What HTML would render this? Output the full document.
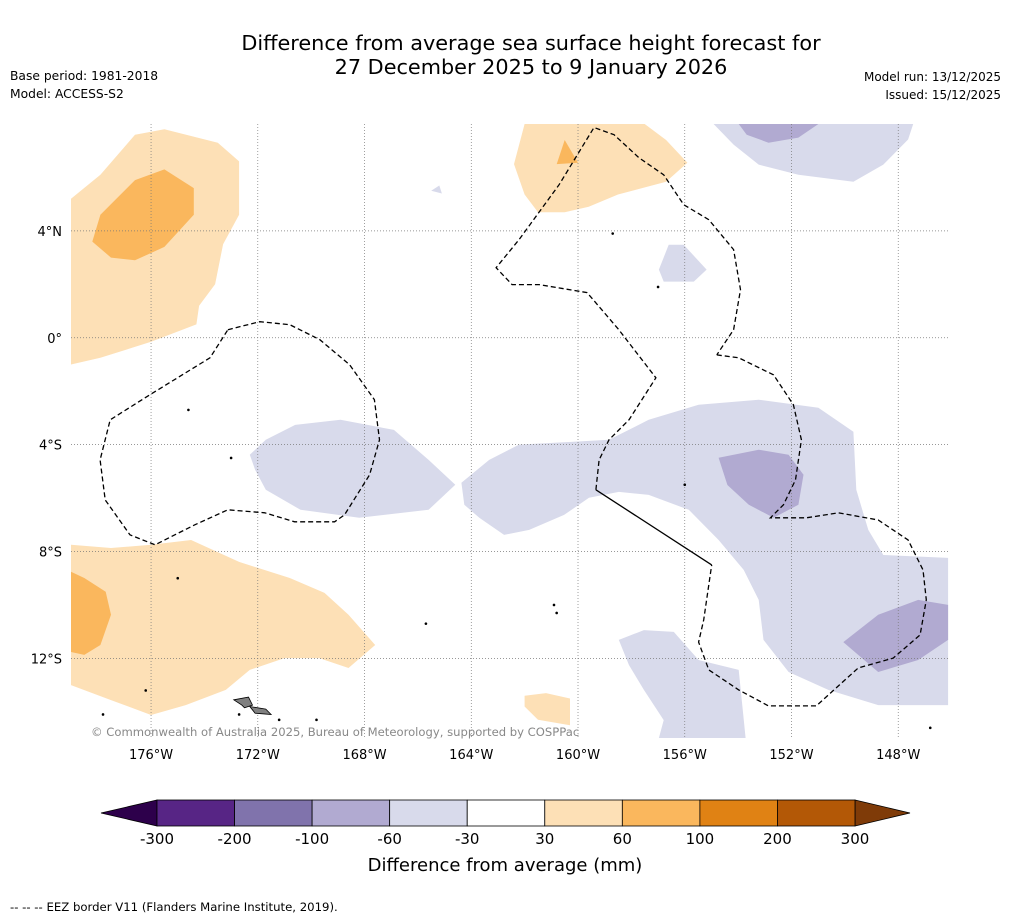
<!DOCTYPE html>
<html><head><meta charset="utf-8">
<style>
html,body{margin:0;padding:0;background:#fff;}
body{width:1011px;height:919px;overflow:hidden;font-family:"DejaVu Sans","Liberation Sans",sans-serif;}
svg text{font-family:"DejaVu Sans","Liberation Sans",sans-serif;}
</style></head>
<body>
<svg id="chart" width="1011" height="919" xmlns="http://www.w3.org/2000/svg">
<rect width="1011" height="919" fill="#fff"/>
<text x="531" y="50" font-size="20.8" text-anchor="middle" fill="#000">Difference from average sea surface height forecast for</text>
<text x="531" y="74" font-size="20.8" text-anchor="middle" fill="#000">27 December 2025 to 9 January 2026</text>
<text x="10" y="80" font-size="12.3">Base period: 1981-2018</text>
<text x="10" y="98" font-size="12.3">Model: ACCESS-S2</text>
<text x="1001" y="81" font-size="12" text-anchor="end">Model run: 13/12/2025</text>
<text x="1001" y="99" font-size="12" text-anchor="end">Issued: 15/12/2025</text>
<g id="map"></g>
<g id="cbar"></g>
<text x="505" y="871" font-size="18" text-anchor="middle">Difference from average (mm)</text>
<text x="10" y="911" font-size="11.7">--  --  -- EEZ border V11 (Flanders Marine Institute, 2019).</text>
</svg>
<script>
const NS="http://www.w3.org/2000/svg";
const lonTicks=[176,172,168,164,160,156,152,148];
const latTicks=[4,0,-4,-8,-12];
const cbLevels=[-300,-200,-100,-60,-30,30,60,100,200,300];
const cbColors=["#572585","#8073ac","#b1aad1","#d8daeb","#ffffff","#fde0b6","#fab75d","#e08214","#b35806"];
const cbLow="#2d004b", cbHigh="#7f3b08";
const lightOrange=[
 [[179,5.2],[177.9,6.1],[176.6,7.6],[175.5,7.8],[173.5,7.3],[172.7,6.6],[172.7,4.6],[173.3,3.5],[173.6,2.0],[174.2,1.2],[174.3,0.5],[176,-0.15],[177.9,-0.75],[179,-1.0]],
 [[162.0,8.0],[157.5,8.0],[156.7,7.4],[155.9,6.55],[156.7,5.84],[158.5,5.36],[159.6,4.9],[160.5,4.7],[161.5,4.7],[162.0,5.36],[162.4,6.5]],
 [[179,-7.75],[177.5,-7.87],[176.0,-7.75],[174.5,-7.57],[172.7,-8.39],[170.8,-8.99],[169.5,-9.55],[168.6,-10.37],[167.6,-11.5],[168.6,-12.36],[169.7,-11.99],[171.0,-11.99],[172.3,-12.43],[173.2,-13.18],[174.7,-13.75],[176.0,-14.12],[177.5,-13.56],[179,-13.0]],
 [[162,-13.4],[161.2,-13.3],[160.3,-13.5],[160.3,-14.5],[161.5,-14.3],[162,-13.8]]
];
const midOrange=[
 [[178.2,3.6],[177.9,4.6],[176.6,5.9],[175.5,6.3],[174.4,5.6],[174.4,4.6],[175.5,3.4],[176.6,2.9],[177.5,3.0]],
 [[160.8,6.5],[160.5,7.4],[160.0,6.55]],
 [[179,-8.76],[178.5,-8.99],[177.7,-9.51],[177.5,-10.37],[177.9,-11.5],[178.5,-11.87],[179,-11.76]]
];
const lightPurple=[
 [[172.3,-4.38],[171.7,-3.82],[170.6,-3.26],[168.9,-3.07],[166.9,-3.45],[165.6,-4.57],[164.6,-5.5],[165.6,-6.44],[168.2,-6.74],[170.4,-6.44],[171.7,-5.69],[172.1,-4.94]],
 [[164.37,-5.43],[163.33,-4.57],[162.21,-4.0],[160.34,-3.9],[158.84,-3.82],[157.35,-3.07],[155.48,-2.51],[153.23,-2.32],[150.99,-2.62],[149.68,-3.52],[149.57,-5.69],[149.12,-7.19],[148.56,-8.13],[146.13,-8.24],[146.13,-13.75],[148.75,-13.75],[150.62,-13.18],[152.11,-12.51],[153.05,-11.31],[153.23,-9.81],[153.79,-8.69],[154.73,-7.57],[155.85,-6.44],[157.35,-5.88],[158.47,-5.77],[159.59,-5.99],[160.52,-6.63],[161.83,-7.19],[162.77,-7.38],[163.70,-6.74],[164.26,-6.25]],
 [[158.47,-11.31],[157.53,-10.94],[156.41,-11.01],[155.48,-12.06],[153.98,-12.43],[153.72,-14.98],[156.97,-14.98],[156.79,-14.31],[157.53,-13.18],[158.09,-12.25]],
 [[154.92,8.0],[147.44,8.0],[147.63,7.42],[148.56,6.48],[149.68,5.84],[151.74,6.1],[153.23,6.48],[154.17,7.23]],
 [[156.97,2.55],[156.6,3.48],[156.04,3.48],[155.18,2.55],[155.66,2.1],[156.79,2.1]],
 [[165.5,5.5],[165.2,5.7],[165.1,5.4]]
];
const midPurple=[
 [[154.73,-4.49],[153.23,-4.19],[152.11,-4.38],[151.55,-5.13],[151.74,-6.25],[152.67,-6.74],[153.6,-6.25],[154.4,-5.51]],
 [[150.06,-11.39],[148.75,-10.37],[147.25,-9.81],[146.13,-10.0],[146.13,-11.31],[147.25,-12.06],[148.75,-12.51]],
 [[153.98,8.0],[150.99,8.0],[151.74,7.49],[152.86,7.3],[153.68,7.6]]
];
const eezLeft=[[173.12,0.30],[171.93,0.60],[170.80,0.49],[169.68,-0.07],[168.56,-1.01],[167.63,-2.32],[167.44,-3.82],[167.81,-5.13],[168.75,-6.63],[169.12,-6.89],[170.62,-6.89],[171.74,-6.55],[173.12,-6.44],[174.36,-7.0],[175.85,-7.75],[176.79,-7.38],[177.72,-6.07],[177.91,-4.57],[177.53,-3.07],[176.04,-2.13],[173.79,-0.75],[173.12,0.30]];
const eezMain=[[159.33,-5.69],[159.21,-4.57],[158.84,-3.82],[158.09,-3.07],[157.08,-1.50],[158.47,0.30],[159.66,1.69],[161.46,1.99],[162.47,1.99],[163.07,2.62],[162.21,3.67],[160.71,5.73],[159.40,7.87],[158.65,7.60],[157.72,6.74],[156.79,6.10],[156.04,4.98],[155.10,4.42],[154.17,3.30],[153.91,1.80],[154.17,0.30],[154.80,-0.64]];
const eezRight=[[154.80,-0.64],[153.98,-0.75],[152.67,-1.39],[151.93,-2.51],[151.63,-3.82],[151.85,-5.32],[152.30,-6.25],[152.79,-6.74],[151.44,-6.74],[150.24,-6.55],[148.75,-6.82],[147.63,-7.57],[147.07,-8.69],[146.95,-9.81],[147.18,-11.12],[148.19,-11.99],[149.50,-12.36],[151.07,-13.78],[152.86,-13.78],[153.98,-13.18],[155.10,-12.43],[155.48,-11.39],[155.29,-10.56],[154.99,-8.50]];
const eezSolid=[[159.33,-5.69],[154.99,-8.50]];
const islands=[[172.7,-14.1],[171.2,-14.3],[169.8,-14.3],[175.0,-9.0],[174.6,-2.7],[173.0,-4.5],[160.9,-10.0],[160.8,-10.3],[156.0,-5.5],[158.7,3.9],[157.0,1.9],[146.8,-14.6],[165.7,-10.7],[176.2,-13.2],[177.8,-14.1]];

const L0=179.0,L1=146.06,T=8.0,B=-14.98, X0=71,X1=950,Y0=124,Y1=738;
const x=lon=>X0+(L0-lon)/(L0-L1)*(X1-X0);
const y=lat=>Y0+(T-lat)/(T-B)*(Y1-Y0);
const map=document.getElementById('map');
function el(tag,attrs,parent){const e=document.createElementNS(NS,tag);for(const k in attrs)e.setAttribute(k,attrs[k]);(parent||map).appendChild(e);return e;}
const pts=arr=>arr.map(p=>x(p[0]).toFixed(1)+","+y(p[1]).toFixed(1)).join(" ");
function polys(list,fill,name){list.forEach(p=>{const e=el('polygon',{points:pts(p),fill:fill,stroke:'none'});

});}
polys(lightOrange,"#fde0b6","anomaly-30-60");
polys(midOrange,"#fab75d","anomaly-60-100");
polys(lightPurple,"#d8daeb","anomaly-neg30-neg60");
polys(midPurple,"#b1aad1","anomaly-neg60-neg100");
lonTicks.forEach(l=>{const g=el('line',{x1:x(l),x2:x(l),y1:Y0,y2:Y1,stroke:'#777','stroke-width':0.7,'stroke-dasharray':'1,2'});


const t=el('text',{x:x(l),y:759,'font-size':13,'text-anchor':'middle'});t.textContent=l+"°W";

});
latTicks.forEach(l=>{const g=el('line',{x1:X0,x2:X1,y1:y(l),y2:y(l),stroke:'#777','stroke-width':0.7,'stroke-dasharray':'1,2'});


const t=el('text',{x:62,y:y(l)+5,'font-size':13,'text-anchor':'end'});t.textContent=(l===0?"0°":Math.abs(l)+"°"+(l>0?"N":"S"));

});
islands.forEach(p=>{const c=el('circle',{cx:x(p[0]),cy:y(p[1]),r:1.3,fill:'#000'});

});
[[[172.9,-13.55],[172.35,-13.45],[172.2,-13.75],[172.5,-13.85],[172.6,-13.75]],[[172.3,-13.8],[171.7,-13.9],[171.5,-14.1],[172.1,-14.05]]].forEach(p=>{const e=el('polygon',{points:pts(p),fill:'#808080',stroke:'#000','stroke-width':0.8});

});
[eezLeft,eezMain,eezRight].forEach(line=>{const e=el('polyline',{points:pts(line),fill:'none',stroke:'#000','stroke-width':1.3,'stroke-dasharray':'5,3'});

});
const s=el('polyline',{points:pts(eezSolid),fill:'none',stroke:'#000','stroke-width':1.3});


const cp=el('text',{x:91,y:736,'font-size':11.6,fill:'#888'});cp.textContent="© Commonwealth of Australia 2025, Bureau of Meteorology, supported by COSPPac";


const cb=document.getElementById('cbar');
const CX0=157,CX1=855,CY=800,CH=26;
const n=cbLevels.length-1, cw=(CX1-CX0)/n;
const lo=el('polygon',{points:`${CX0},${CY} ${CX0},${CY+CH} 101,${CY+CH/2}`,fill:cbLow,stroke:'#000','stroke-width':0.8},cb);


const hi=el('polygon',{points:`${CX1},${CY} ${CX1},${CY+CH} 910,${CY+CH/2}`,fill:cbHigh,stroke:'#000','stroke-width':0.8},cb);


cbColors.forEach((c,i)=>{const r=el('rect',{x:CX0+i*cw,y:CY,width:cw,height:CH,fill:c,stroke:'#000','stroke-width':0.8},cb);

});
cbLevels.forEach((v,i)=>{const t=el('text',{x:CX0+i*cw,y:844,'font-size':15,'text-anchor':'middle'},cb);t.textContent=v;

});
</script>
</body></html>
